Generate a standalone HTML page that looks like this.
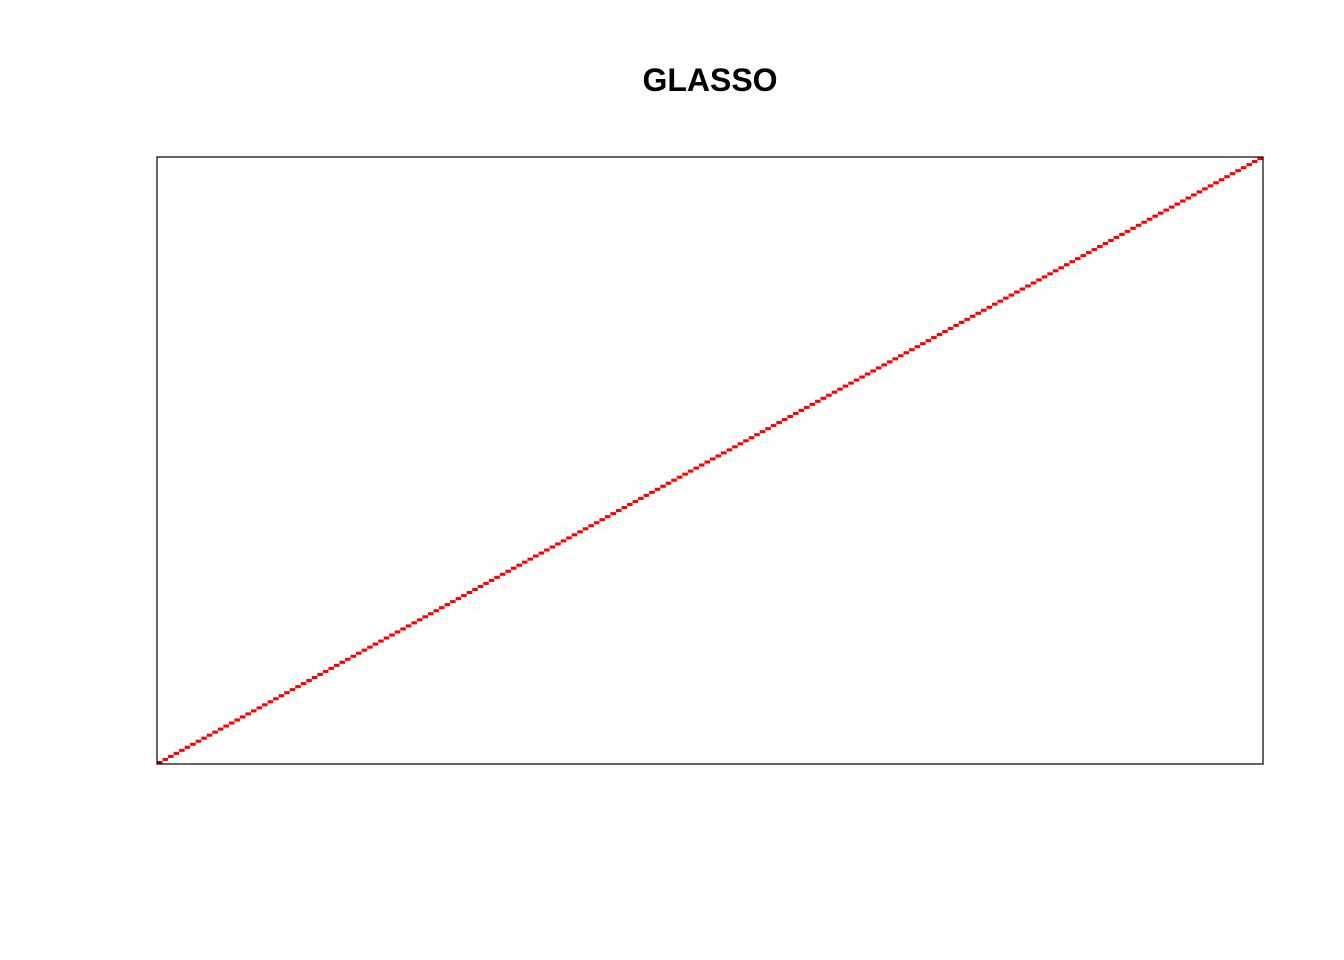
<!DOCTYPE html>
<html><head><meta charset="utf-8"><style>
html,body{margin:0;padding:0;background:#fff;}
svg{display:block;}
</style></head><body>
<svg id="chart" width="1344" height="960" xmlns="http://www.w3.org/2000/svg">
<rect width="1344" height="960" fill="#fff"/>
<text x="710" y="91" text-anchor="middle" font-family="Liberation Sans, sans-serif" font-weight="bold" font-size="32" fill="#000">GLASSO</text>
<g id="cells"></g>
<rect x="157" y="157" width="1106" height="607" fill="none" stroke="#000" stroke-width="1.2"/>
</svg>
<script>
const diagValues = [1,1,1,1,1,1,1,1,1,1,1,1,1,1,1,1,1,1,1,1,1,1,1,1,1,1,1,1,1,1,1,1,1,1,1,1,1,1,1,1,1,1,1,1,1,1,1,1,1,1,1,1,1,1,1,1,1,1,1,1,1,1,1,1,1,1,1,1,1,1,1,1,1,1,1,1,1,1,1,1,1,1,1,1,1,1,1,1,1,1,1,1,1,1,1,1,1,1,1,1,1,1,1,1,1,1,1,1,1,1,1,1,1,1,1,1,1,1,1,1,1,1,1,1,1,1,1,1,1,1,1,1,1,1,1,1,1,1,1,1,1,1,1,1,1,1,1,1,1,1,1,1,1,1,1,1,1,1,1,1,1,1,1,1,1,1,1,1,1,1,1,1,1,1,1,1,1,1,1,1,1,1,1,1,1,1,1,1,1,1,1,1,1,1,1,1,1,1,1,1];
const X0 = 157, X1 = 1263, Y0 = 764, Y1 = 157;
const n = diagValues.length;
function xScale(i){ return X0 + (X1 - X0) * i / n; }
function yScale(j){ return Y0 - (Y0 - Y1) * j / n; }
const g = document.getElementById('cells');
diagValues.forEach((v, i) => {
  if (!v) return;
  const r = document.createElementNS('http://www.w3.org/2000/svg', 'rect');
  const x = xScale(i), x2 = xScale(i + 1);
  const y = yScale(i + 1), y2 = yScale(i);
  r.setAttribute('x', x);
  r.setAttribute('y', y);
  r.setAttribute('width', x2 - x);
  r.setAttribute('height', y2 - y);
  r.setAttribute('fill', i === 0 ? '#c00000' : '#ff0000');
  
  
  g.appendChild(r);
});
</script>
</body></html>
